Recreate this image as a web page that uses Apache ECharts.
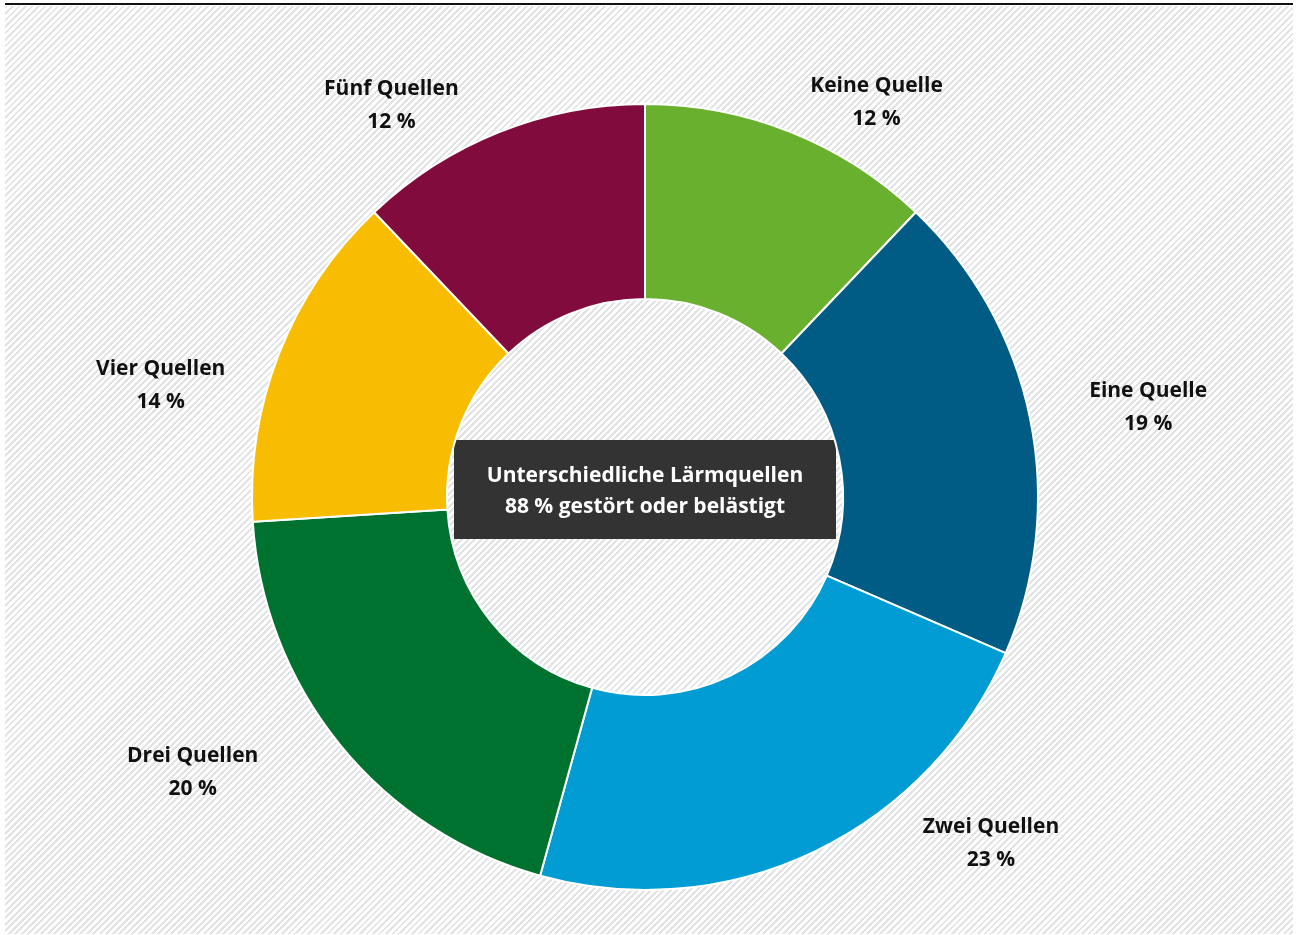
<!DOCTYPE html>
<html>
<head>
<meta charset="utf-8">
<script src="https://cdn.jsdelivr.net/npm/echarts@6/dist/echarts.min.js"></script>
<style>
  html, body { margin: 0; padding: 0; background: #fff; }
  #wrap { position: relative; width: 1298px; height: 935px; }
  #hatch {
    position: absolute; left: 5px; top: 6px; width: 1288px; height: 928px;
    background: repeating-linear-gradient(135deg, #e2e3e5 0 2px, #ffffff 2px 4.6px);
  }
  #topline { position: absolute; left: 5px; top: 3px; width: 1288px; height: 2px; background: #111; }
  #chart { position: absolute; left: 0; top: 0; width: 1298px; height: 935px; }
</style>
</head>
<body>
<div id="wrap">
  <div id="hatch"></div>
  <div id="topline"></div>
  <div id="chart"></div>
</div>
<script>
// Anteile (in %), im Uhrzeigersinn ab 12 Uhr
const categories = ['Keine Quelle', 'Eine Quelle', 'Zwei Quellen', 'Drei Quellen', 'Vier Quellen', 'Fünf Quellen'];
const values = [12.1, 19.4, 22.8, 19.7, 13.9, 12.1];
const colors = ['#6ab02f', '#005c84', '#009cd3', '#00722f', '#f8bc00', '#800b3c'];
const centerText = ['Unterschiedliche Lärmquellen', '88 % gestört oder belästigt'];
// Feinjustierung der Beschriftungen (px), wie im Original von Hand gesetzt
const labelNudge = [[2, 14], [13, -2], [88, -50], [-45, -2], [-10, 49], [-23, 17]];

const chart = echarts.init(document.getElementById('chart'));
const cx = 645, cy = 497;
const total = values.reduce((a, b) => a + b, 0);

// mittlerer Winkel je Segment (0 = oben, im Uhrzeigersinn)
const midAngles = [];
let acc = 0;
values.forEach(v => {
  midAngles.push((acc + v / 2) / total * Math.PI * 2);
  acc += v;
});

const labelFont = '"Open Sans", Roboto, sans-serif';

chart.setOption({
  animation: false,
  series: [{
    type: 'pie',
    center: [cx, cy],
    radius: [198, 393],
    startAngle: 90,
    clockwise: true,
    silent: true,
    itemStyle: { borderColor: '#fff', borderWidth: 2 },
    label: {
      show: true,
      position: 'outside',
      formatter: p => p.name + '\n' + Math.round(p.value) + ' %',
      fontFamily: labelFont,
      fontWeight: 'bold',
      fontSize: 21,
      lineHeight: 33,
      color: '#111'
    },
    labelLine: { show: false },
    labelLayout: (params) => {
      const i = params.dataIndex;
      const a = midAngles[i];
      const R = 440;
      const sx = Math.sin(a), sy = Math.cos(a);
      const sign = sx >= 0 ? 1 : -1;
      return {
        x: cx + R * sx + sign * params.labelRect.width / 2 + labelNudge[i][0],
        y: cy - R * sy + labelNudge[i][1],
        align: 'center',
        verticalAlign: 'middle'
      };
    },
    data: categories.map((c, i) => ({ name: c, value: values[i], itemStyle: { color: colors[i] } }))
  }],
  graphic: [{
    type: 'group',
    left: 454,
    top: 440,
    children: [{
      type: 'rect',
      shape: { x: 0, y: 0, width: 382, height: 99 },
      style: { fill: '#333333' }
    }, {
      type: 'text',
      x: 191,
      y: 52,
      style: {
        text: centerText.join('\n'),
        fill: '#fff',
        font: 'bold 21px ' + labelFont,
        lineHeight: 31,
        align: 'center',
        verticalAlign: 'middle'
      }
    }]
  }]
});
</script>
</body>
</html>
